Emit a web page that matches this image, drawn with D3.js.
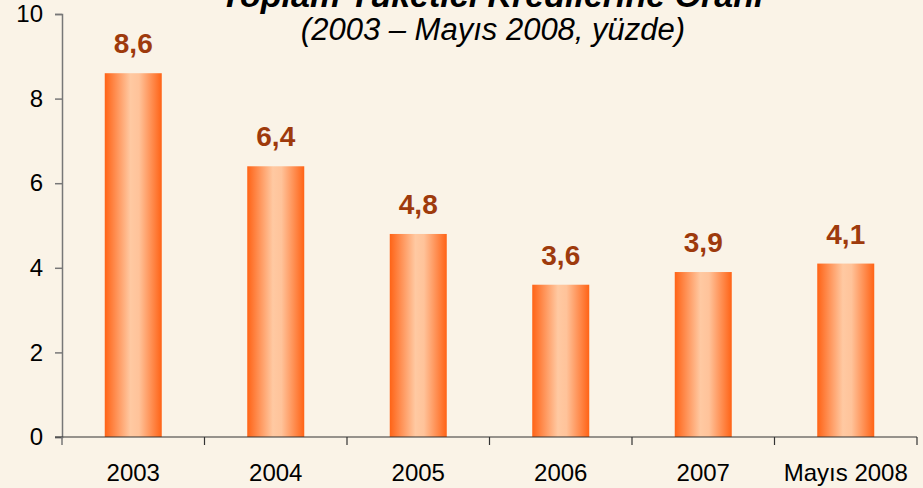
<!DOCTYPE html>
<html>
<head>
<meta charset="utf-8">
<script src="https://cdn.jsdelivr.net/npm/d3@7"></script>
<style>
  body { margin: 0; background: #faf3e7; }
  svg { display: block; font-family: "Liberation Sans", Arial, sans-serif; }
</style>
</head>
<body>
<div id="chart"></div>
<script>
// chart data
const categories = ["2003", "2004", "2005", "2006", "2007", "Mayıs 2008"]
const values = [8.6, 6.4, 4.8, 3.6, 3.9, 4.1]
const labels = ["8,6", "6,4", "4,8", "3,6", "3,9", "4,1"]
const yTicks = [0, 2, 4, 6, 8, 10]

const width = 923
const height = 488
const margin = {left: 62, right: 6, top: 14, bottom: 51}

let svg = d3.select("#chart")
            .append("svg")
            .attr("width", width)
            .attr("height", height)

svg.append("rect")
   .attr("width", width)
   .attr("height", height)
   .attr("fill", "#faf3e7")

// horizontal gradient for the bars
let grad = svg.append("defs")
              .append("linearGradient")
              .attr("id", "barGrad")
              .attr("x1", "0%").attr("x2", "100%")
              .attr("y1", "0%").attr("y2", "0%")
grad.append("stop").attr("offset", "0%").attr("stop-color", "#ff6316")
grad.append("stop").attr("offset", "45%").attr("stop-color", "#ffc9a2")
grad.append("stop").attr("offset", "60%").attr("stop-color", "#ffc39a")
grad.append("stop").attr("offset", "100%").attr("stop-color", "#ff6316")

let xScale = d3.scaleBand()
               .domain(categories)
               .range([margin.left, width - margin.right])
               .paddingInner(0.6)
               .paddingOuter(0.3)

let yScale = d3.scaleLinear()
               .domain([0, 10])
               .range([height - margin.bottom, margin.top])

// title (partly cut off at the top, like the reference)
svg.append("text")
   .attr("x", 492)
   .attr("y", 7)
   .attr("text-anchor", "middle")
   .style("font-size", "34px")
   .style("font-weight", "bold")
   .style("font-style", "italic")
   .text("Toplam Tüketici Kredilerine Oranı")

svg.append("text")
   .attr("x", 493)
   .attr("y", 40)
   .attr("text-anchor", "middle")
   .style("font-size", "31px")
   .style("font-style", "italic")
   .text("(2003 – Mayıs 2008, yüzde)")

// bars
svg.selectAll(".bar")
   .data(values)
   .enter().append("rect")
   .attr("class", "bar")
   .attr("x", (d, i) => xScale(categories[i]))
   .attr("width", xScale.bandwidth())
   .attr("y", d => yScale(d))
   .attr("height", d => yScale(0) - yScale(d))
   .attr("fill", "url(#barGrad)")

svg.selectAll(".val")
   .data(values)
   .enter().append("text")
   .attr("class", "val")
   .attr("x", (d, i) => xScale(categories[i]) + xScale.bandwidth() / 2)
   .attr("y", d => yScale(d) - 20)
   .attr("text-anchor", "middle")
   .attr("fill", "#9e3a0c")
   .style("font-size", "28px")
   .style("font-weight", "bold")
   .text((d, i) => labels[i])

// y axis
let yAxis = d3.axisLeft(yScale)
              .tickValues(yTicks)
              .tickSize(7)
              .tickPadding(12)
              .tickFormat(d3.format("d"))
let gy = svg.append("g")
   .attr("transform", "translate(" + margin.left + ",0)")
   .call(yAxis)
gy.select(".domain").attr("stroke", "#777").attr("stroke-width", 1.5)
gy.selectAll(".tick line").attr("stroke", "#777").attr("stroke-width", 1.5)
gy.selectAll("text").style("font-size", "24px").attr("fill", "#000")

// x axis with ticks on the category boundaries
let xAxisLine = d3.scaleLinear()
                  .domain([0, categories.length])
                  .range([margin.left, width - margin.right])
let gx = svg.append("g")
   .attr("transform", "translate(0," + yScale(0) + ")")
gx.append("line")
  .attr("x1", margin.left - 7)
  .attr("x2", width - margin.right)
  .attr("stroke", "#333")
  .attr("stroke-width", 1.2)
gx.selectAll(".xt")
  .data(d3.range(0, categories.length + 1))
  .enter().append("line")
  .attr("x1", d => xAxisLine(d))
  .attr("x2", d => xAxisLine(d))
  .attr("y1", 0)
  .attr("y2", 8)
  .attr("stroke", d => d === 0 ? "#777" : "#333")
  .attr("stroke-width", d => d === 0 ? 1.5 : 1.2)
gx.selectAll(".xl")
  .data(categories)
  .enter().append("text")
  .attr("x", d => xScale(d) + xScale.bandwidth() / 2)
  .attr("y", 44)
  .attr("text-anchor", "middle")
  .style("font-size", "24px")
  .text(d => d)
</script>
</body>
</html>
